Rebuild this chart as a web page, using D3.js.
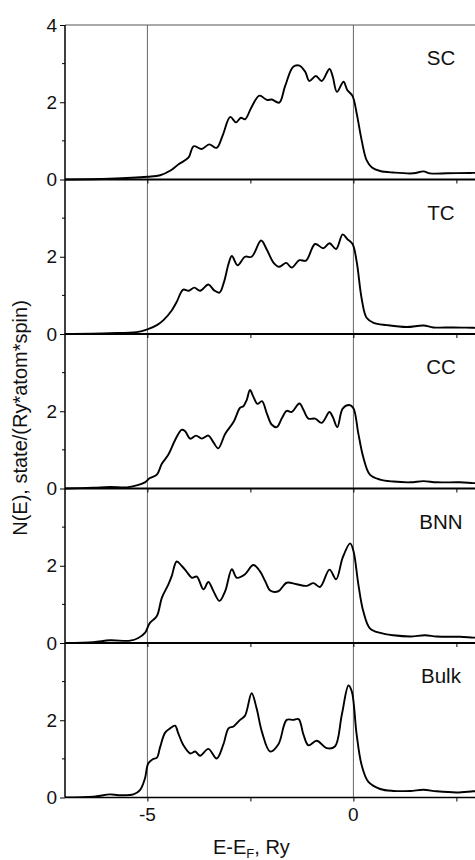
<!DOCTYPE html>
<html><head><meta charset="utf-8">
<script src="https://cdn.jsdelivr.net/npm/d3@7"></script>
<style>body{margin:0;background:#fff}svg{display:block}text{font-family:"Liberation Sans",Arial,Helvetica,sans-serif;fill:#111}</style>
</head><body><div id="chart"></div>
<script>
// Panel names (top to bottom)
const panels = ["SC", "TC", "CC", "BNN", "Bulk"];
// x tick labels
const xTickLabels = [-5, 0];
const xMinorTicks = [-2.5, 2.5];
const yMajorTicks = [0, 2, 4];
const yMinorTicks = [1, 3];

// Energy (E-E_F, Ry) and DOS values
const scE = [-7.0,-5.91,-5.0,-4.69,-4.45,-4.25,-4.0,-3.88,-3.68,-3.5,-3.32,-3.17,-2.99,-2.85,-2.73,-2.63,-2.47,-2.28,-2.1,-1.98,-1.8,-1.66,-1.46,-1.31,-1.17,-1.07,-0.91,-0.77,-0.58,-0.5,-0.4,-0.24,-0.15,-0.02,0.08,0.2,0.32,0.45,0.65,0.97,1.46,1.7,1.86,2.27,2.83,3.0];
const scN = [0.0,0.02,0.07,0.11,0.225,0.39,0.57,0.86,0.79,0.91,0.82,1.15,1.62,1.48,1.6,1.56,1.88,2.17,2.06,2.07,1.99,2.41,2.92,2.95,2.79,2.55,2.68,2.55,2.86,2.66,2.27,2.53,2.32,2.16,1.71,1.02,0.5,0.31,0.22,0.18,0.16,0.21,0.16,0.16,0.17,0.17];

const tcE = [-7.0,-5.91,-5.26,-5.0,-4.77,-4.61,-4.41,-4.29,-4.13,-4.0,-3.86,-3.72,-3.52,-3.38,-3.25,-3.14,-3.03,-2.95,-2.81,-2.63,-2.47,-2.24,-2.1,-1.94,-1.8,-1.63,-1.5,-1.31,-1.15,-0.93,-0.73,-0.58,-0.42,-0.26,-0.15,-0.02,0.08,0.2,0.32,0.49,0.81,1.29,1.7,1.94,2.43,2.91,3.0];
const tcN = [0.0,0.02,0.05,0.12,0.23,0.36,0.61,0.83,1.15,1.12,1.2,1.12,1.28,1.13,1.07,1.35,1.82,2.02,1.78,2.0,2.0,2.42,2.18,1.85,1.74,1.84,1.72,1.91,1.9,2.33,2.22,2.35,2.2,2.58,2.46,2.33,1.87,0.92,0.42,0.29,0.23,0.18,0.22,0.17,0.17,0.16,0.16];

const ccE = [-7.0,-6.31,-5.91,-5.5,-5.26,-5.06,-4.94,-4.77,-4.65,-4.49,-4.33,-4.17,-4.09,-3.96,-3.82,-3.68,-3.52,-3.4,-3.28,-3.11,-2.91,-2.75,-2.67,-2.59,-2.51,-2.43,-2.33,-2.22,-2.1,-1.98,-1.86,-1.74,-1.62,-1.5,-1.31,-1.21,-1.09,-0.93,-0.77,-0.58,-0.5,-0.39,-0.26,-0.1,0.0,0.12,0.24,0.4,0.65,0.97,1.38,1.7,2.02,2.59,2.91,3.0];
const ccN = [0.0,0.02,0.04,0.03,0.08,0.16,0.27,0.36,0.64,0.88,1.25,1.52,1.49,1.29,1.37,1.29,1.37,1.2,1.04,1.42,1.72,2.09,2.13,2.29,2.55,2.38,2.19,2.26,1.94,1.65,1.59,1.81,2.01,1.98,2.2,2.03,1.81,1.81,1.7,1.98,1.85,1.59,2.07,2.16,2.08,1.42,0.81,0.36,0.23,0.18,0.16,0.19,0.16,0.16,0.14,0.14];

const bnnE = [-7.0,-6.31,-5.91,-5.42,-5.22,-5.06,-4.94,-4.77,-4.65,-4.49,-4.41,-4.29,-4.17,-4.05,-3.92,-3.8,-3.64,-3.52,-3.4,-3.25,-3.11,-2.95,-2.83,-2.63,-2.43,-2.27,-2.14,-2.02,-1.82,-1.62,-1.38,-1.13,-0.97,-0.81,-0.58,-0.42,-0.26,-0.08,0.0,0.12,0.24,0.4,0.65,0.97,1.38,1.74,2.02,2.59,2.91,3.0];
const bnnN = [0.0,0.02,0.07,0.06,0.13,0.26,0.52,0.7,1.17,1.52,1.73,2.11,2.0,1.85,1.69,1.72,1.39,1.58,1.35,1.09,1.35,1.91,1.69,1.78,2.02,1.86,1.6,1.36,1.34,1.56,1.52,1.48,1.55,1.45,1.9,1.65,2.21,2.58,2.39,1.52,0.82,0.38,0.26,0.2,0.17,0.2,0.17,0.16,0.14,0.14];

const bulkE = [-7.0,-6.31,-5.91,-5.7,-5.34,-5.18,-5.06,-4.98,-4.87,-4.77,-4.69,-4.57,-4.45,-4.33,-4.25,-4.13,-3.96,-3.84,-3.72,-3.52,-3.32,-3.16,-3.03,-2.91,-2.75,-2.63,-2.47,-2.35,-2.22,-2.02,-1.82,-1.62,-1.46,-1.33,-1.21,-1.09,-0.89,-0.65,-0.45,-0.28,-0.12,-0.04,0.08,0.2,0.36,0.65,0.97,1.38,1.7,2.02,2.51,2.91,3.0];
const bulkN = [0.0,0.02,0.08,0.06,0.08,0.19,0.49,0.88,0.99,1.03,1.31,1.68,1.79,1.86,1.66,1.36,1.14,1.19,1.08,1.26,1.01,1.36,1.79,1.84,2.01,2.12,2.7,2.31,1.7,1.19,1.38,2.01,2.01,2.03,1.62,1.35,1.47,1.28,1.32,2.15,2.9,2.75,1.62,0.84,0.41,0.22,0.17,0.17,0.2,0.16,0.13,0.16,0.16];

const seriesE = [scE, tcE, ccE, bnnE, bulkE];
const seriesN = [scN, tcN, ccN, bnnN, bulkN];

const W = 475, H = 860;
const plotLeft = 65, plotTop = 25, plotBottom = 797.5;
const panelH = (plotBottom - plotTop) / panels.length;
const FONT = '"Liberation Sans",Arial,Helvetica,sans-serif';

const svg = d3.select("#chart").append("svg").attr("width", W).attr("height", H);
const x = d3.scaleLinear().domain([-7, 3]).range([plotLeft, plotLeft + 10 * 41.2]);

svg.append("defs").append("clipPath").attr("id", "clip")
  .append("rect").attr("x", plotLeft).attr("y", plotTop).attr("width", W - plotLeft).attr("height", plotBottom - plotTop);

// Vertical reference lines at -5 and 0
svg.selectAll(".vref").data(xTickLabels).enter().append("line")
  .attr("x1", d => x(d)).attr("x2", d => x(d))
  .attr("y1", plotTop).attr("y2", plotBottom)
  .attr("stroke", "#666").attr("stroke-width", 1);

// top border
svg.append("line").attr("x1", plotLeft).attr("x2", W).attr("y1", plotTop).attr("y2", plotTop)
  .attr("stroke", "#555").attr("stroke-width", 1);

panels.forEach((name, i) => {
  const y0 = plotTop + i * panelH;
  const y = d3.scaleLinear().domain([0, 4]).range([y0 + panelH, y0]);
  const g = svg.append("g");

  const pts = seriesE[i].map((e, k) => [e, seriesN[i][k]]);
  const line = d3.line().x(d => x(d[0])).y(d => y(d[1])).curve(d3.curveCatmullRom.alpha(0.5));
  g.append("path").datum(pts).attr("d", line).attr("fill", "none")
    .attr("stroke", "#000").attr("stroke-width", 1.9).attr("clip-path", "url(#clip)");

  const majors = i === 0 ? yMajorTicks : yMajorTicks.filter(t => t < 4);
  const ax = d3.axisLeft(y).tickValues(majors).tickSize(5).tickPadding(3).tickFormat(d3.format("d"));
  const ag = g.append("g").attr("transform", `translate(${plotLeft},0)`).call(ax);
  ag.select(".domain").remove();
  ag.selectAll("text").attr("font-size", 19).style("font-family", FONT).attr("fill", "#111");
  ag.selectAll("line").attr("stroke", "#000");
  g.selectAll(".ymin").data(yMinorTicks).enter().append("line")
    .attr("x1", plotLeft - 3).attr("x2", plotLeft).attr("y1", d => y(d)).attr("y2", d => y(d)).attr("stroke", "#000");

  const xb = d3.axisBottom(x).tickValues([...xTickLabels, ...xMinorTicks]).tickSize(4).tickFormat("");
  const xg = g.append("g").attr("transform", `translate(0,${y(0)})`).call(xb);
  xg.select(".domain").remove();
  xg.selectAll("line").attr("stroke", "#000");

  g.append("line").attr("x1", plotLeft).attr("x2", W).attr("y1", y(0)).attr("y2", y(0))
    .attr("stroke", "#000").attr("stroke-width", i === panels.length - 1 ? 1.5 : 2);

  g.append("text").attr("x", 441).attr("y", y0 + 32.5).attr("text-anchor", "middle")
    .attr("dominant-baseline", "central").attr("font-size", 20.5).text(name);
});

svg.append("line").attr("x1", plotLeft).attr("x2", plotLeft).attr("y1", plotTop).attr("y2", plotBottom)
  .attr("stroke", "#000").attr("stroke-width", 1.5);

svg.selectAll(".xl").data(xTickLabels).enter().append("text")
  .attr("x", d => x(d)).attr("y", 821).attr("text-anchor", "middle").attr("font-size", 19)
  .text(d => d);

const xt = svg.append("text").attr("x", 213).attr("y", 854).attr("font-size", 20).attr("fill", "#111");
xt.append("tspan").attr("fill", "#111").text("E-E");
xt.append("tspan").attr("fill", "#111").attr("font-size", 13).attr("dy", 4).text("F");
xt.append("tspan").attr("fill", "#111").attr("dy", -4).text(", Ry");

svg.append("text").attr("transform", `translate(27,${418}) rotate(-90)`)
  .attr("text-anchor", "middle").attr("font-size", 20).text("N(E), state/(Ry*atom*spin)");
</script></body></html>
